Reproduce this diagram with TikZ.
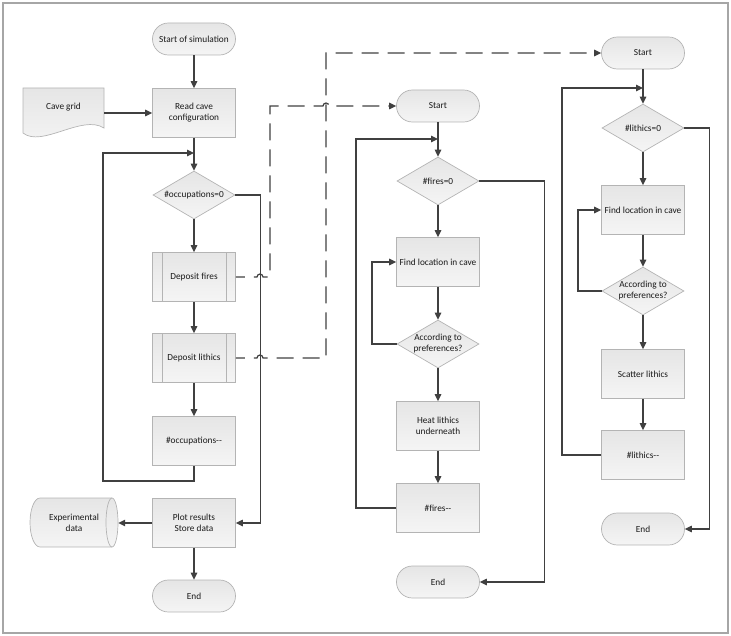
\documentclass[tikz,border=0pt]{standalone}
\usepackage{fontspec}
\setmainfont{Carlito}
\usetikzlibrary{arrows.meta,shapes.geometric}
\definecolor{linec}{HTML}{404040}
\definecolor{edgec}{HTML}{B4B4B4}
\definecolor{framec}{HTML}{A6A6A6}
\definecolor{txtc}{HTML}{1A1A1A}

\begin{document}
\begin{tikzpicture}[x=1pt, y=-1pt,
    box/.style={draw=edgec, line width=0.7pt, top color=black!10, bottom color=black!4, minimum width=83pt, minimum height=49pt, align=center, inner sep=2pt, text=txtc, font=\fontsize{9.3}{11}\selectfont},
    term/.style={box, rounded corners=15.9pt, minimum height=32pt},
    decide/.style={box, diamond, aspect=1.7, inner sep=0pt, minimum width=82pt, minimum height=48pt},
    plain/.style={align=center, text=txtc, inner sep=0pt, font=\fontsize{9.3}{11}\selectfont},
    shp/.style={draw=edgec, line width=0.7pt, top color=black!10, bottom color=black!4},
    arr/.style={draw=linec, line width=1.2pt, -{Triangle[length=7pt,width=6.5pt]}},
    dsh/.style={arr, dash pattern=on 17pt off 9pt, dash phase=8pt}
]
\useasboundingbox (0,0) rectangle (731,636);
\draw[framec, line width=1.3pt] (3,3) rectangle (728,633);

\draw[shp] (23,88) -- (104,88) -- (104,128) .. controls (82,114) and (42,148) .. (23,133) -- cycle;
\draw[shp] (40,498) arc[start angle=90, end angle=270, x radius=10pt, y radius=24.5pt] -- (112,547) arc[start angle=270, end angle=450, x radius=6pt, y radius=24.5pt] -- cycle;
\draw[draw=edgec, line width=0.7pt] (112,498) arc[start angle=90, end angle=270, x radius=6pt, y radius=24.5pt];

\node[term] (start1) at (194,39) {Start of simulation};
\node[plain, minimum width=81pt, minimum height=45pt] (grid) at (63.5,107) {Cave grid};
\node[box] (read) at (194,113) {Read cave\\configuration};
\node[decide] (occ) at (194,195) {\#occupations=0};
\node[box] (dfire) at (194,277) {Deposit fires};
\node[box] (dlith) at (194,358) {Deposit lithics};
\node[box] (occdec) at (194,441) {\#occupations-{}-};
\node[box] (plot) at (194,523) {Plot results\\Store data};
\node[plain, minimum width=88pt, minimum height=49pt] (exp) at (74,523) {Experimental\\data};
\node[term] (end1) at (194,596) {End};

\node[term] (start2) at (438,106) {Start};
\node[decide] (fires) at (438,181) {\#fires=0};
\node[box] (find2) at (438,262) {Find location in cave};
\node[decide] (pref2) at (438,344) {According to\\preferences?};
\node[box] (heat) at (438,426) {Heat lithics\\underneath};
\node[box] (firedec) at (438,508) {\#fires-{}-};
\node[term] (end2) at (438,582) {End};

\node[term] (start3) at (643,53) {Start};
\node[decide] (lith) at (643,128) {\#lithics=0};
\node[box] (find3) at (643,210) {Find location in cave};
\node[decide] (pref3) at (643,291) {According to\\preferences?};
\node[box] (scat) at (643,374) {Scatter lithics};
\node[box] (lithdec) at (643,455) {\#lithics-{}-};
\node[term] (end3) at (643,529) {End};

\foreach \n in {dfire,dlith}{
  \draw[draw=edgec, line width=0.7pt] ([xshift=10pt]\n.north west) -- ([xshift=10pt]\n.south west);
  \draw[draw=edgec, line width=0.7pt] ([xshift=-10pt]\n.north east) -- ([xshift=-10pt]\n.south east);
}

\coordinate (j1) at (194,153);
\coordinate (lp1) at (103,481);
\coordinate (j2) at (438,139);
\coordinate (lp2) at (356,508);
\coordinate (ip2) at (372,344);
\coordinate (j3) at (643,88);
\coordinate (lp3) at (562,455);
\coordinate (ip3) at (578,291);

\draw[arr] (start1) -- (read);
\draw[arr] (grid.east |- read) -- (read);
\draw[arr] (read) -- (occ);
\draw[arr] (occ) -- (dfire);
\draw[arr] (dfire) -- (dlith);
\draw[arr] (dlith) -- (occdec);
\draw[arr] (occdec.south) |- (lp1) |- (j1);
\draw[arr] (occ.east) -- ++(25,0) |- (plot.east);
\draw[arr] (plot) -- (exp.east);
\draw[arr] (plot) -- (end1);

\draw[dsh] (dfire.east) -- (257,277) arc[start angle=180, end angle=0, radius=3pt] -- (270,277) -- (270,106) -- (323,106) arc[start angle=180, end angle=0, radius=3pt] -- (start2.west);
\draw[dsh] (dlith.east) -- (257,358) arc[start angle=180, end angle=0, radius=3pt] -- (326,358) -- (326,53) -- (start3.west);

\draw[arr] (start2) -- (fires);
\draw[arr] (fires) -- (find2);
\draw[arr] (find2) -- (pref2);
\draw[arr] (pref2) -- (heat);
\draw[arr] (heat) -- (firedec);
\draw[arr] (pref2.west) -- (ip2) |- (find2.west);
\draw[arr] (firedec.west) -- (lp2) |- (j2);
\draw[arr] (fires.east) -- ++(65,0) |- (end2.east);

\draw[arr] (start3) -- (lith);
\draw[arr] (lith) -- (find3);
\draw[arr] (find3) -- (pref3);
\draw[arr] (pref3) -- (scat);
\draw[arr] (scat) -- (lithdec);
\draw[arr] (pref3.west) -- (ip3) |- (find3.west);
\draw[arr] (lithdec.west) -- (lp3) |- (j3);
\draw[arr] (lith.east) -- ++(25,0) |- (end3.east);
\end{tikzpicture}
\end{document}
